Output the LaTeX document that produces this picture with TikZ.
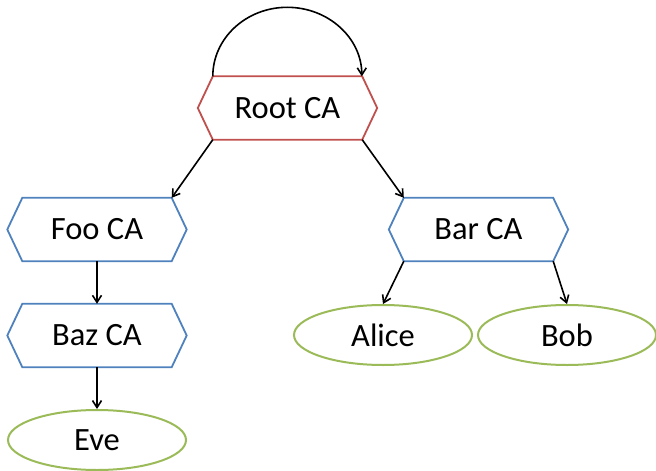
\documentclass[tikz,border=0pt]{standalone}
\usepackage{fontspec}
\setmainfont{Carlito}
\usetikzlibrary{shapes.geometric,arrows.meta}
\definecolor{rootred}{HTML}{C0504D}
\definecolor{cablue}{HTML}{4F81BD}
\definecolor{leafgreen}{HTML}{9BBB59}
\begin{document}
\begin{tikzpicture}[x=1pt,y=-1pt,
  every node/.style={font=\fontsize{32.5}{36}\selectfont, text=black},
  hexbox/.style={rectangle, minimum width=149pt, minimum height=63pt, inner sep=0pt},
  leaf/.style={ellipse, draw=leafgreen, line width=2pt, minimum width=178pt, minimum height=60pt, inner sep=0pt},
  link/.style={draw=black, line width=1.6pt, -{Straight Barb[length=7pt,width=9pt,line width=1.6pt]}}
]
\useasboundingbox (0,0) rectangle (656,471);

% certificate authorities
\node[hexbox] (root) at (287.5,108) {Root CA};
\node[hexbox] (foo) at (97,229.5) {Foo CA};
\node[hexbox] (baz) at (97,335.5) {Baz CA};
\node[hexbox] (bar) at (478.5,229.5) {Bar CA};

% hexagonal outlines around the CA nodes
\foreach \n/\c in {root/rootred, foo/cablue, baz/cablue, bar/cablue}
  \draw[\c, line width=1.8pt, line join=miter]
    (\n.north west) -- (\n.north east) -- ([xshift=15pt]\n.east)
    -- (\n.south east) -- (\n.south west) -- ([xshift=-15pt]\n.west) -- cycle;

% end entities
\node[leaf] (alice) at (383,335) {Alice};
\node[leaf] (bob) at (567,335) {Bob};
\node[leaf] (eve) at (97,440) {Eve};

% self-signed root
\draw[link] (root.north west) arc[start angle=180, end angle=0, x radius=74.5pt, y radius=69pt];

% issuing relations
\draw[link] (root.south west) -- (foo.north east);
\draw[link] (root.south east) -- (bar.north west);
\draw[link] (foo.south) -- (baz.north);
\draw[link] (baz.south) -- (eve.north);
\draw[link] (bar.south west) -- (alice.north);
\draw[link] (bar.south east) -- (bob.north);
\end{tikzpicture}
\end{document}
